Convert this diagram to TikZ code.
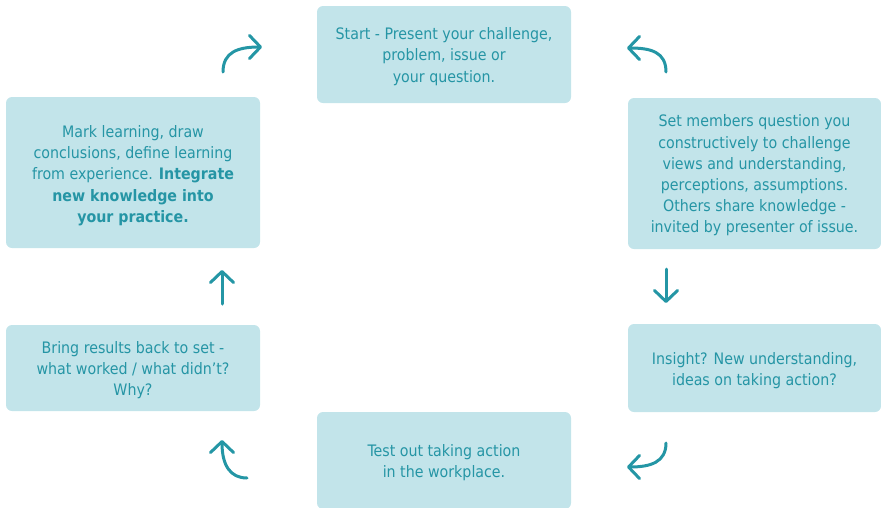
\documentclass[tikz,border=0pt]{standalone}
\usepackage{fontspec}
\setmainfont{DejaVu Sans Condensed}
\usetikzlibrary{arrows.meta}
\definecolor{boxfill}{HTML}{C2E4EA}
\definecolor{boxtext}{HTML}{2595A5}
\definecolor{arrowcol}{HTML}{2496A5}
\tikzset{
  stagebox/.style={fill=boxfill, draw=none, rounded corners=6pt, inner sep=0pt},
  stagetext/.style={align=center, text=boxtext, inner sep=0pt,
    font=\fontsize{15.8}{21.2}\selectfont},
  flowarrow/.style={draw=arrowcol, line width=3pt, line cap=round,
    -{Straight Barb[length=11pt, width=23pt, line width=3pt, round]}}
}
\begin{document}
\begin{tikzpicture}[x=1pt, y=-1pt]
\useasboundingbox (0,0) rectangle (881,507);

% the six stages of the cycle
\node[stagebox, minimum width=254pt, minimum height=97pt]  (start)    at (444,54.5)   {};
\node[stagebox, minimum width=253pt, minimum height=151pt] (question) at (754.5,173.5) {};
\node[stagebox, minimum width=253pt, minimum height=88pt]  (insight)  at (754.5,368)   {};
\node[stagebox, minimum width=254pt, minimum height=97pt]  (test)     at (444,460.5)  {};
\node[stagebox, minimum width=254pt, minimum height=86pt]  (results)  at (133,368)    {};
\node[stagebox, minimum width=254pt, minimum height=151pt] (learn)    at (133,172.5)  {};

% stage texts
\node[stagetext] (startT) at ([yshift=-2pt]start.center)
  {Start - Present your challenge,\\ problem, issue or\\ your question.};
\node[stagetext] (questionT) at ([yshift=-2pt]question.center)
  {Set members question you\\ constructively to challenge\\ views and understanding,\\ perceptions, assumptions.\\ Others share knowledge -\\ invited by presenter of issue.};
\node[stagetext] (insightT) at ([yshift=-3pt]insight.center)
  {Insight? New understanding,\\ ideas on taking action?};
\node[stagetext] (testT) at ([yshift=-2pt]test.center)
  {Test out taking action\\ in the workplace.};
\node[stagetext] (resultsT) at ([yshift=-2pt]results.center)
  {Bring results back to set -\\ what worked / what didn’t?\\ Why?};
\node[stagetext] (learnT) at ([yshift=-3pt]learn.center)
  {Mark learning, draw\\ conclusions, define learning\\ from experience. \textbf{Integrate}\\ \textbf{new knowledge into}\\ \textbf{your practice.}};

% arrow end points
\coordinate (a1s) at (223,72);   \coordinate (a1e) at (262,47);
\coordinate (a2s) at (666,72);   \coordinate (a2e) at (627,48);
\coordinate (a3s) at (666,269);  \coordinate (a3e) at (666,303);
\coordinate (a4s) at (666,443);  \coordinate (a4e) at (627,467);
\coordinate (a5s) at (247,478);  \coordinate (a5e) at (222,440);
\coordinate (a6s) at (222,304);  \coordinate (a6e) at (222,270);

% connectors between the stages
\draw[flowarrow] (a1s) .. controls (223,52) and (238,47) .. (a1e);
\draw[flowarrow] (a2s) .. controls (666,52) and (651,48) .. (a2e);
\draw[flowarrow] (a3s) -- (a3e);
\draw[flowarrow] (a4s) .. controls (666,462) and (651,467) .. (a4e);
\draw[flowarrow] (a5s) .. controls (230,478) and (222,465) .. (a5e);
\draw[flowarrow] (a6s) -- (a6e);
\end{tikzpicture}
\end{document}
